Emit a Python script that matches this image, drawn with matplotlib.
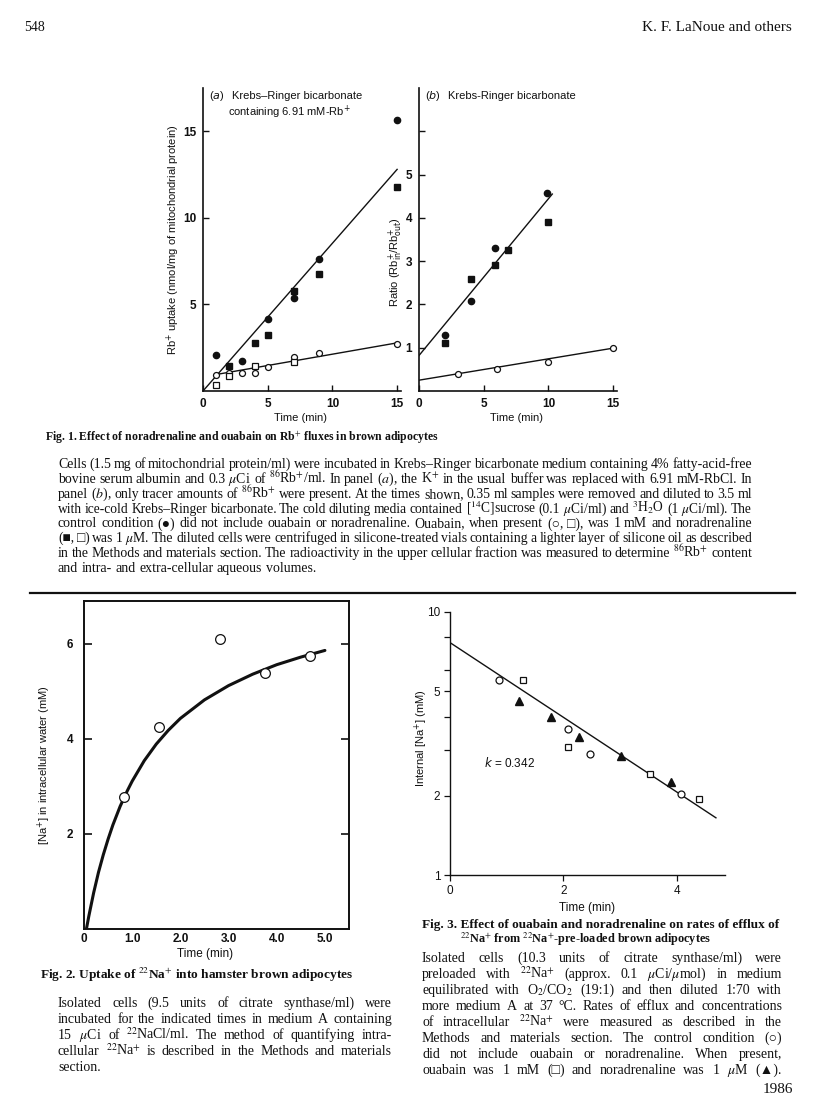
import matplotlib
matplotlib.use("Agg")
import matplotlib.pyplot as plt
from matplotlib.lines import Line2D
from matplotlib.ticker import FixedLocator, NullFormatter

# Fig. 1(a): Rb+ uptake (nmol/mg of mitochondrial protein) vs time (min)
a_ctrl_t = [1, 3, 5, 7, 9, 15]
a_ctrl = [2.1, 1.75, 4.13, 5.4, 7.63, 15.66]
a_nor_t = [2, 4, 5, 7, 9, 15]
a_nor = [1.45, 2.78, 3.22, 5.79, 6.74, 11.78]
a_oua_t = [1, 2, 3, 4, 5, 7, 9, 15]
a_oua = [0.91, 1.06, 1.06, 1.04, 1.41, 1.99, 2.18, 2.74]
a_both_t = [1, 2, 4, 7]
a_both = [0.33, 0.87, 1.45, 1.66]
a_fit_hi_t, a_fit_hi = [0, 15], [0, 12.8]
a_fit_lo_t, a_fit_lo = [1, 15], [0.95, 2.78]

# Fig. 1(b): ratio Rb+in / Rb+out
b_ctrl_t = [2, 4, 5.9, 9.9]
b_ctrl = [1.29, 2.09, 3.30, 4.58]
b_nor_t = [2, 4, 5.9, 6.9, 9.95]
b_nor = [1.12, 2.58, 2.90, 3.25, 3.91]
b_oua_t = [3, 6, 10, 15]
b_oua = [0.40, 0.50, 0.68, 0.99]
b_fit_hi_t, b_fit_hi = [0, 10.3], [0.82, 4.55]
b_fit_lo_t, b_fit_lo = [0, 15], [0.25, 0.99]

# Fig. 2: [Na+] in intracellular water (mM)
na_t = [0.82, 1.56, 2.82, 3.76, 4.69]
na = [2.77, 4.24, 6.10, 5.38, 5.74]
curve_t = [0.05, 0.1, 0.2, 0.3, 0.4, 0.5, 0.6, 0.75, 0.9, 1.0, 1.25, 1.5, 1.75,
           2.0, 2.5, 3.0, 3.5, 4.0, 4.5, 5.0]
curve_y = [0.0, 0.27, 0.76, 1.19, 1.56, 1.89, 2.19, 2.58, 2.91, 3.11, 3.54, 3.89, 4.18,
           4.43, 4.82, 5.12, 5.36, 5.56, 5.72, 5.86]
fig2_xticks = [0, 1, 2, 3, 4, 5]
fig2_xlabels = ["0", "1.0", "2.0", "3.0", "4.0", "5.0"]

# Fig. 3: internal [Na+] (mM), log scale
c_ctrl_t = [0.87, 2.08, 2.47, 4.08]
c_ctrl = [5.52, 3.59, 2.88, 2.03]
c_oua_t = [1.28, 2.08, 3.53, 4.40]
c_oua = [5.52, 3.08, 2.43, 1.95]
c_nor_t = [1.21, 1.78, 2.28, 3.02, 3.89]
c_nor = [4.60, 3.99, 3.35, 2.84, 2.26]
c_fit_t, c_fit = [0, 4.69], [7.65, 1.65]

fig1_lines = [
    "Cells (1.5 mg of mitochondrial protein/ml) were incubated in Krebs–Ringer bicarbonate medium containing 4% fatty-acid-free",
    r"bovine serum albumin and 0.3 $\mu$Ci of $^{86}$Rb$^{+}$/ml. In panel ($\it{a}$), the K$^{+}$ in the usual buffer was replaced with 6.91 mM-RbCl. In",
    r"panel ($\it{b}$), only tracer amounts of $^{86}$Rb$^{+}$ were present. At the times shown, 0.35 ml samples were removed and diluted to 3.5 ml",
    r"with ice-cold Krebs–Ringer bicarbonate. The cold diluting media contained [$^{14}$C]sucrose (0.1 $\mu$Ci/ml) and $^{3}$H$_{2}$O (1 $\mu$Ci/ml). The",
    "control condition (●) did not include ouabain or noradrenaline. Ouabain, when present (○, □), was 1 mM and noradrenaline",
    r"(■, □) was 1 $\mu$M. The diluted cells were centrifuged in silicone-treated vials containing a lighter layer of silicone oil as described",
    r"in the Methods and materials section. The radioactivity in the upper cellular fraction was measured to determine $^{86}$Rb$^{+}$ content",
    "and intra- and extra-cellular aqueous volumes.",
]
fig2_lines = [
    "Isolated cells (9.5 units of citrate synthase/ml) were",
    "incubated for the indicated times in medium A containing",
    r"15 $\mu$Ci of $^{22}$NaCl/ml. The method of quantifying intra-",
    r"cellular $^{22}$Na$^{+}$ is described in the Methods and materials",
    "section.",
]
fig3_lines = [
    "Isolated cells (10.3 units of citrate synthase/ml) were",
    r"preloaded with $^{22}$Na$^{+}$ (approx. 0.1 $\mu$Ci/$\mu$mol) in medium",
    r"equilibrated with O$_{2}$/CO$_{2}$ (19:1) and then diluted 1:70 with",
    "more medium A at 37 °C. Rates of efflux and concentrations",
    r"of intracellular $^{22}$Na$^{+}$ were measured as described in the",
    "Methods and materials section. The control condition (○)",
    "did not include ouabain or noradrenaline. When present,",
    r"ouabain was 1 mM (□) and noradrenaline was 1 $\mu$M (▲).",
]

W, H = 816, 1107
SERIF = ["Liberation Serif", "DejaVu Serif", "DejaVu Sans"]
SANS = ["Liberation Sans", "DejaVu Sans"]
INK = "#111111"

plt.rcParams["font.family"] = SANS
plt.rcParams["text.color"] = INK
plt.rcParams["xtick.color"] = INK
plt.rcParams["ytick.color"] = INK
plt.rcParams["axes.edgecolor"] = INK

fig = plt.figure(figsize=(W / 100, H / 100), dpi=100)
renderer = fig.canvas.get_renderer()


def put(x, y, s, size=9.5, family=SERIF, ha="left", va="baseline", math="stix", **kw):
    return fig.text(x / W, 1 - y / H, s, fontsize=size, family=family, ha=ha, va=va,
                    math_fontfamily=math, **kw)


def width(t):
    return t.get_window_extent(renderer).width


def fit(x0, x1, y, s, size=9, ha="left", **kw):
    t = put(x0 if ha == "left" else (x0 + x1) / 2, y, s, size=size, ha=ha, **kw)
    t.set_fontsize(size * (x1 - x0) / width(t))
    return t


def justify(x0, x1, y, line, size=9.5, last=False, **kw):
    words = line.split(" ")
    texts = [put(x0, y, w, size=size, **kw) for w in words]
    widths = [width(t) for t in texts]
    min_gap = size * 0.2 * 100 / 72
    room = x1 - x0 - min_gap * (len(words) - 1)
    if not last and sum(widths) > room:
        # line too long for this face: shrink it a little
        scale = room / sum(widths)
        for t in texts:
            t.set_fontsize(size * scale)
        widths = [width(t) for t in texts]
    if last or len(words) == 1:
        gap = size * 0.25 * 100 / 72
    else:
        gap = (x1 - x0 - sum(widths)) / (len(words) - 1)
    x = x0
    for t, w in zip(texts, widths):
        t.set_x(x / W)
        x += w + gap


def add_ax(left, top, right, bottom):
    return fig.add_axes([left / W, 1 - bottom / H, (right - left) / W, (bottom - top) / H])


def open_marks(ax, x, y, m, ms):
    ax.plot(x, y, m, mfc="white", mec=INK, ms=ms, mew=0.9, clip_on=False, zorder=3)


def full_marks(ax, x, y, m, ms):
    ax.plot(x, y, m, color=INK, ms=ms, clip_on=False, zorder=3)


# page header
put(24, 31, "548", size=10)
put(792, 31, "K. F. LaNoue and others", size=11, ha="right")

# ---- Fig. 1 (a)
ax = add_ax(203, 88, 401, 391)
ax.set_xlim(0, 15.3)
ax.set_ylim(0, 17.5)
ax.plot(a_fit_hi_t, a_fit_hi, color=INK, lw=1)
ax.plot(a_fit_lo_t, a_fit_lo, color=INK, lw=1)
full_marks(ax, a_ctrl_t, a_ctrl, "o", 4.5)
full_marks(ax, a_nor_t, a_nor, "s", 4.3)
open_marks(ax, a_oua_t, a_oua, "o", 4.3)
open_marks(ax, a_both_t, a_both, "s", 4.0)
ax.set_xticks([0, 5, 10, 15])
ax.set_yticks([5, 10, 15])

# ---- Fig. 1 (b)
bx = add_ax(419, 88, 617, 391)
bx.set_xlim(0, 15.3)
bx.set_ylim(0, 7.0)
bx.plot(b_fit_hi_t, b_fit_hi, color=INK, lw=1)
bx.plot(b_fit_lo_t, b_fit_lo, color=INK, lw=1)
full_marks(bx, b_ctrl_t, b_ctrl, "o", 4.5)
full_marks(bx, b_nor_t, b_nor, "s", 4.3)
open_marks(bx, b_oua_t, b_oua, "o", 4.3)
bx.set_xticks([0, 5, 10, 15])
bx.set_yticks([1, 2, 3, 4, 5, 6])
bx.set_yticklabels(["1", "2", "3", "4", "5", ""])

for a in (ax, bx):
    for s in ("top", "right"):
        a.spines[s].set_visible(False)
    for s in ("left", "bottom"):
        a.spines[s].set_linewidth(1.2)
    a.tick_params(direction="in", length=4, width=1, labelsize=8.5, pad=5)
    for lab in a.get_xticklabels() + a.get_yticklabels():
        lab.set_fontweight("bold")

put(209, 99, r"($\it{a}$)", size=8, family=SANS, math="dejavusans")
put(232, 99, "Krebs–Ringer bicarbonate", size=8, family=SANS)
put(289, 116, "containing 6.91 mM-Rb$^{+}$", size=8, family=SANS, ha="center", math="dejavusans")
put(425, 99, r"($\it{b}$)", size=8, family=SANS, math="dejavusans")
put(448, 99, "Krebs-Ringer bicarbonate", size=8, family=SANS)
put(300, 421, "Time (min)", size=8, family=SANS, ha="center")
put(516, 421, "Time (min)", size=8, family=SANS, ha="center")
put(173, 240, "Rb$^{+}$ uptake (nmol/mg of mitochondrial protein)", size=8, family=SANS,
    ha="center", va="center", rotation=90, math="dejavusans")
put(396, 262, r"Ratio (Rb$^{+}_{\rm in}$/Rb$^{+}_{\rm out}$)", size=8, family=SANS,
    ha="center", va="center", rotation=90, math="dejavusans")

fit(45, 441, 441, "Fig. 1. Effect of noradrenaline and ouabain on Rb$^{+}$ fluxes in brown adipocytes",
    size=9, weight="bold")
for i, line in enumerate(fig1_lines):
    justify(58, 752, 468 + 14.85 * i, line, size=10, last=(i == len(fig1_lines) - 1))

fig.add_artist(Line2D([30 / W, 795 / W], [1 - 593 / H] * 2, lw=1.6, color=INK))

# ---- Fig. 2
cx = add_ax(84, 601, 349, 929)
cx.set_xlim(0, 5.5)
cx.set_ylim(0, 6.9)
cx.plot(curve_t, curve_y, color=INK, lw=2.2, solid_capstyle="round", solid_joinstyle="round")
open_marks(cx, na_t, na, "o", 7)
cx.set_xticks(fig2_xticks)
cx.set_xticklabels(fig2_xlabels)
cx.xaxis.set_minor_locator(FixedLocator([1, 2, 3, 4]))
cx.tick_params(axis="x", which="major", length=0, pad=3, labelsize=8.5)
cx.tick_params(axis="x", which="minor", bottom=False, top=True, direction="in", length=5, width=1.2)
cx.set_yticks([2, 4, 6])
cx.tick_params(axis="y", left=True, right=True, direction="in", length=6, width=1.2,
               labelsize=8.5, pad=8)
for s in cx.spines.values():
    s.set_linewidth(1.4)
for lab in cx.get_xticklabels() + cx.get_yticklabels():
    lab.set_fontweight("bold")
put(205, 957, "Time (min)", size=8.5, family=SANS, ha="center")
put(44, 765, "[Na$^{+}$] in intracellular water (mM)", size=8, family=SANS, ha="center",
    va="center", rotation=90, math="dejavusans")

fit(40, 352, 979, "Fig. 2. Uptake of $^{22}$Na$^{+}$ into hamster brown adipocytes", size=10,
    weight="bold")
for i, line in enumerate(fig2_lines):
    justify(58, 392, 1007 + 16 * i, line, size=10, last=(i == len(fig2_lines) - 1))

# ---- Fig. 3
dx = add_ax(450, 612, 725, 875)
dx.set_yscale("log")
dx.set_xlim(0, 4.85)
dx.set_ylim(1, 10)
dx.plot(c_fit_t, c_fit, color=INK, lw=1)
open_marks(dx, c_ctrl_t, c_ctrl, "o", 5)
open_marks(dx, c_oua_t, c_oua, "s", 4.6)
full_marks(dx, c_nor_t, c_nor, "^", 5.2)
dx.set_yticks([1, 2, 5, 10])
dx.set_yticklabels(["1", "2", "5", "10"])
dx.yaxis.set_minor_locator(FixedLocator([3, 4, 6, 8]))
dx.yaxis.set_minor_formatter(NullFormatter())
dx.set_xticks([0, 2, 4])
dx.tick_params(which="both", direction="out", length=4, width=0.9, labelsize=8.5, pad=3)
for s in ("top", "right"):
    dx.spines[s].set_visible(False)
for s in ("left", "bottom"):
    dx.spines[s].set_linewidth(1.0)
dx.text(0.6, 2.66, "$k$ = 0.342", fontsize=8.5, va="center", math_fontfamily="dejavusans")
put(587, 911, "Time (min)", size=8.5, family=SANS, ha="center")
put(421, 738, "Internal [Na$^{+}$] (mM)", size=8, family=SANS, ha="center", va="center",
    rotation=90, math="dejavusans")

fit(422, 782, 928, "Fig. 3. Effect of ouabain and noradrenaline on rates of efflux of", size=10,
    weight="bold")
fit(460, 712, 943, "$^{22}$Na$^{+}$ from $^{22}$Na$^{+}$-pre-loaded brown adipocytes", size=10,
    weight="bold", ha="center")
for i, line in enumerate(fig3_lines):
    justify(422, 782, 962 + 16 * i, line, size=10)

put(793, 1093, "1986", size=11, ha="right")

fig.savefig("out.png", dpi=100, facecolor="white")
